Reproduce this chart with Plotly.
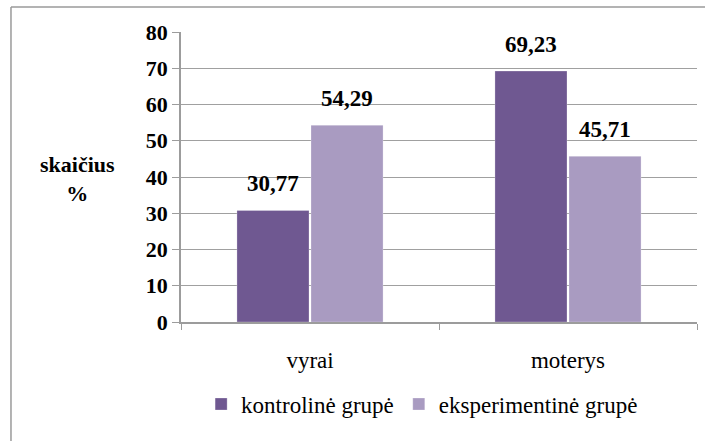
import plotly.graph_objects as go

categories = ["vyrai", "moterys"]
series_names = ["kontrolinė grupė", "eksperimentinė grupė"]
kontroline = [30.77, 69.23]
eksperimentine = [54.29, 45.71]
y_ticks = [0, 10, 20, 30, 40, 50, 60, 70, 80]
colors = ["#6F5891", "#A99BC1"]

FONT = "Liberation Serif"

fig = go.Figure()
for name, vals, col in zip(series_names, [kontroline, eksperimentine], colors):
    fig.add_trace(go.Bar(
        x=categories, y=vals, name=name,
        marker=dict(color=col, line=dict(color="rgba(255,255,255,0.5)", width=0.5)),
        hoverinfo="skip",
    ))

annotations = []
for vals, xs in [(kontroline, -37), (eksperimentine, 37)]:
    for c, v in zip(categories, vals):
        annotations.append(dict(
            x=c, y=v, xref="x", yref="y", text="<b>" + f"{v:.2f}".replace(".", ",") + "</b>",
            showarrow=False, xshift=xs, yshift=27, yanchor="middle",
            font=dict(family=FONT, size=23, color="black"),
        ))

annotations.append(dict(
    x=-0.2, y=0.493, xref="paper", yref="paper", text="<b>skaičius</b><br><b>%</b>",
    showarrow=False, xanchor="center", yanchor="middle",
    font=dict(family=FONT, size=22, color="black"),
))

fig.update_layout(
    width=705, height=441,
    font=dict(family=FONT, color="black"),
    margin=dict(l=181, r=8, t=32, b=119),
    paper_bgcolor="white", plot_bgcolor="white",
    barmode="group", bargap=0.426, bargroupgap=0.027,
    showlegend=True,
    legend=dict(orientation="h", x=0.039, xanchor="left", y=-0.283, yanchor="middle",
                font=dict(family=FONT, size=23, color="black"), traceorder="normal"),
    annotations=annotations,
    xaxis=dict(
        showline=True, linecolor="#9c9c9c", linewidth=1.5,
        ticks="outside", tickson="boundaries", ticklen=6, tickcolor="#9c9c9c",
        tickfont=dict(family=FONT, size=23, color="black"),
        ticklabelstandoff=17,
        showgrid=False,
    ),
    yaxis=dict(
        range=[0, 80], tickvals=y_ticks,
        showline=True, linecolor="#9c9c9c", linewidth=1.5,
        ticks="outside", ticklen=7, tickcolor="#9c9c9c",
        showgrid=True, gridcolor="#a0a0a0", gridwidth=1.2,
        tickfont=dict(family=FONT, size=22, color="black", weight="bold"),
        zeroline=False,
    ),
    shapes=[
        dict(type="line", xref="paper", yref="paper", x0=-0.3295, x1=1.02, y0=1.0862, y1=1.0862,
             line=dict(color="#9a9a9a", width=1.5)),
        dict(type="line", xref="paper", yref="paper", x0=-0.3295, x1=-0.3295, y0=1.0862, y1=-0.42,
             line=dict(color="#9a9a9a", width=1.5)),
    ],
)

fig.write_html("out.html", config={"displayModeBar": False},
               post_script="document.body.style.margin='0px';")
